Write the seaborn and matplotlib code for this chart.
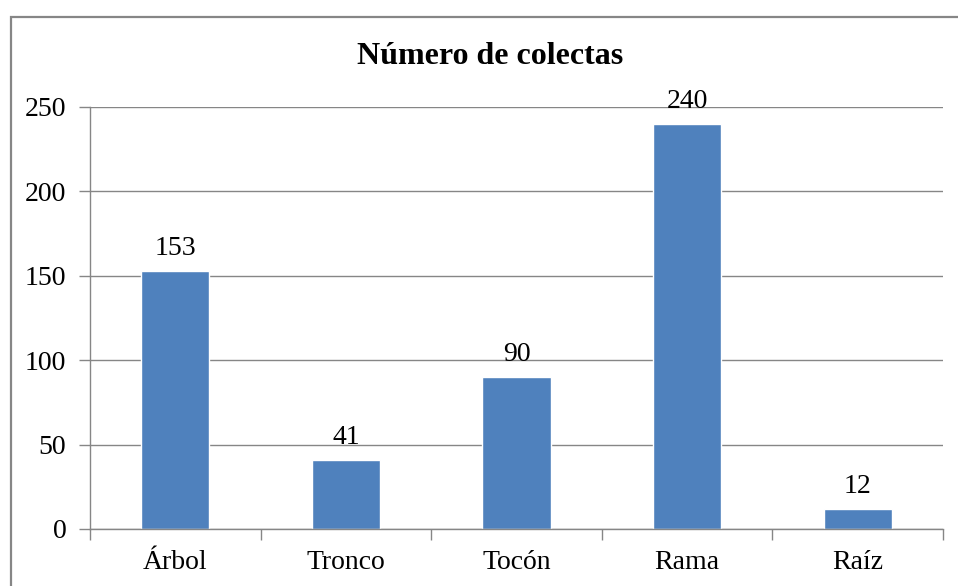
import matplotlib
matplotlib.use("Agg")
import matplotlib.pyplot as plt
import seaborn as sns
import pandas as pd
from matplotlib.patches import Rectangle

categorias = ["Árbol", "Tronco", "Tocón", "Rama", "Raíz"]
colectas = [153, 41, 90, 240, 12]
yticks = [0, 50, 100, 150, 200, 250]

df = pd.DataFrame({"categoria": categorias, "colectas": colectas})

sns.set_theme(style="white")
plt.rcParams["font.family"] = ["Liberation Serif", "DejaVu Serif"]
plt.rcParams["text.color"] = "black"
plt.rcParams["xtick.color"] = "black"
plt.rcParams["ytick.color"] = "black"

W, H = 958, 586
fig = plt.figure(figsize=(W / 100, H / 100), dpi=100)

# chart border (runs past right/bottom edge of the image)
fig.patches.append(Rectangle((10.5 / W, -0.1), 2, (H - 16.5) / H + 0.1,
                             transform=fig.transFigure, fill=False,
                             edgecolor="#868686", linewidth=1.6))

ax = fig.add_axes([90 / W, (H - 529) / H, (943 - 90) / W, (529 - 107) / H])
sns.barplot(data=df, x="categoria", y="colectas", color="#4F81BD",
            saturation=1, width=0.4, ax=ax)

ax.set_ylim(0, 250)
ax.set_xlim(-0.5, len(categorias) - 0.5)
ax.set_yticks(yticks)
ax.set_yticklabels([str(t) for t in yticks], fontsize=20)
ax.yaxis.grid(True, color="#868686", linewidth=1)
ax.set_axisbelow(True)
ax.set_xlabel("")
ax.set_ylabel("")

# category ticks sit between the bars
ax.set_xticks(range(len(categorias)))
ax.set_xticklabels(categorias, fontsize=20)
ax.tick_params(axis="x", which="major", length=0, pad=15)
ax.set_xticks([i - 0.5 for i in range(len(categorias) + 1)], minor=True)
ax.tick_params(axis="x", which="minor", bottom=True, length=8,
               color="#868686", width=1)
ax.tick_params(axis="y", left=True, length=8, color="#868686", width=1,
               pad=9, labelcolor="black")

for s in ["top", "right"]:
    ax.spines[s].set_visible(False)
for s in ["left", "bottom"]:
    ax.spines[s].set_color("#868686")
    ax.spines[s].set_linewidth(1)

for i, v in enumerate(colectas):
    ax.annotate(str(v), (i, v), xytext=(0, 7), textcoords="offset points",
                ha="center", va="bottom", fontsize=20, color="black")

fig.text(490 / W, 1 - 56 / H, "Número de colectas", ha="center", va="center",
         fontsize=23, fontweight="bold", color="black")

fig.savefig("out.png", dpi=100)
